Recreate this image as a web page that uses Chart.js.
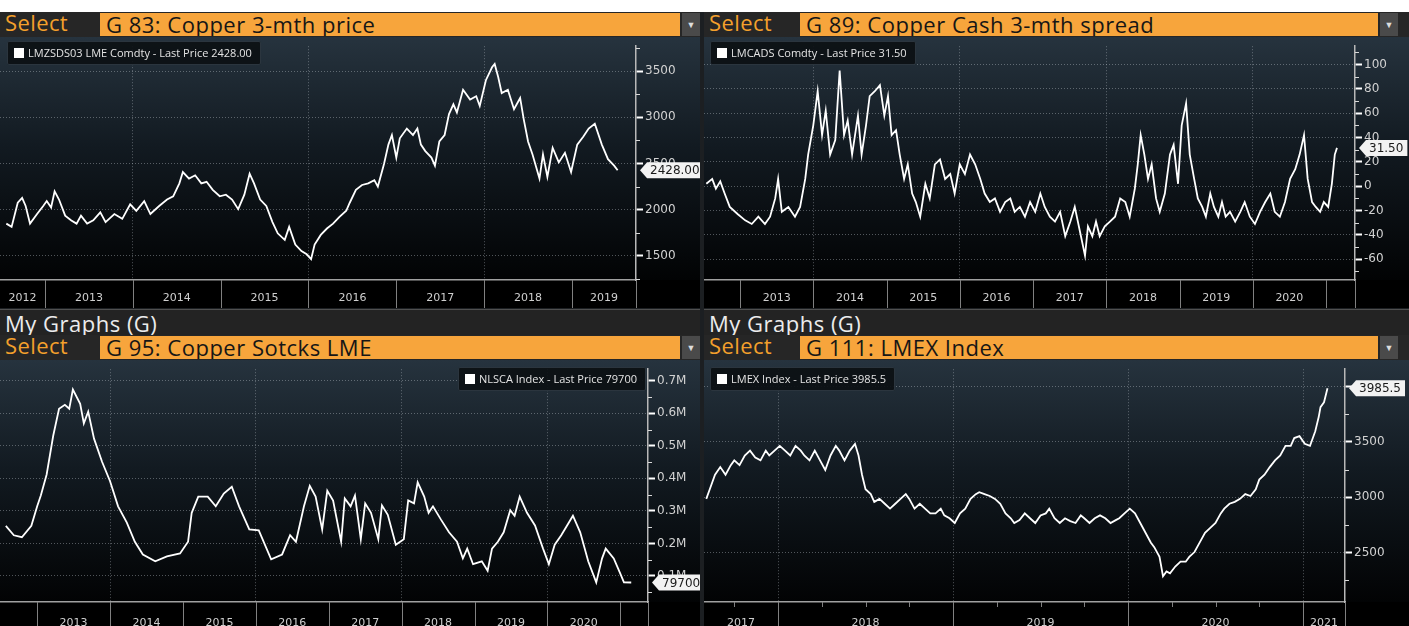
<!DOCTYPE html>
<html>
<head>
<meta charset="utf-8">
<script src="https://cdn.jsdelivr.net/npm/chart.js@4"></script>
<style>
  body { margin: 0; width: 1409px; height: 626px; background: #fff; overflow: hidden; position: relative; font-family: "Open Sans", sans-serif; }
  .fundo { position: absolute; left: 0; top: 12px; width: 1409px; height: 614px; background: #1c1f22; }
  .hdr { position: absolute; height: 25px; background: #262626; }
  .sel { position: absolute; left: 5px; top: -5px; color: #f4a02c; font-size: 22px; letter-spacing: 0.4px; }
  .fld { position: absolute; top: 1px; height: 23px; background: #f7a53c; color: #161616; font-size: 22px; letter-spacing: 0.5px; line-height: 22px; padding-left: 6px; box-sizing: border-box; white-space: nowrap; overflow: hidden; }
  .dd { position: absolute; top: 1px; width: 18px; height: 23px; background: #4a4a4a; color: #ddd; font-size: 9px; text-align: center; line-height: 23px; }
  .mg { position: absolute; height: 26px; background: #232323; color: #ececec; font-size: 22px; letter-spacing: 0.5px; line-height: 26px; padding-left: 5px; box-sizing: border-box; border-top: 1px solid #505050; }
  .lg { position: absolute; height: 22px; background: rgba(12, 16, 20, 0.92); border: 1px solid #2b353e; border-radius: 2px; color: #e4e4e4; font-size: 11px; line-height: 22px; padding: 0 8px 0 6px; font-family: "Open Sans", sans-serif; white-space: nowrap; }
  .lg i { display: inline-block; width: 10px; height: 10px; background: #fff; margin-right: 4px; vertical-align: -1px; }
  canvas { position: absolute; }
</style>
</head>
<body>
<div class="fundo"></div>

<div class="hdr" style="left:0;top:12px;width:700px">
  <span class="sel">Select</span>
  <span class="fld" style="left:100px;width:580px">G 83: Copper 3-mth price</span>
  <span class="dd" style="left:682px">▼</span>
</div>
<div class="hdr" style="left:704px;top:12px;width:705px">
  <span class="sel">Select</span>
  <span class="fld" style="left:96px;width:578px">G 89: Copper Cash 3-mth spread</span>
  <span class="dd" style="left:676px">▼</span>
</div>

<div class="mg" style="left:0;top:309px;width:700px">My Graphs (G)</div>
<div class="mg" style="left:704px;top:309px;width:705px">My Graphs (G)</div>

<div class="hdr" style="left:0;top:335px;width:700px">
  <span class="sel">Select</span>
  <span class="fld" style="left:100px;width:580px">G 95: Copper Sotcks LME</span>
  <span class="dd" style="left:682px">▼</span>
</div>
<div class="hdr" style="left:704px;top:335px;width:705px">
  <span class="sel">Select</span>
  <span class="fld" style="left:96px;width:578px">G 111: LMEX Index</span>
  <span class="dd" style="left:676px">▼</span>
</div>

<canvas id="gTL" width="700" height="271" style="left:0;top:37px"></canvas>
<canvas id="gTR" width="705" height="271" style="left:704px;top:37px"></canvas>
<canvas id="gBL" width="700" height="266" style="left:0;top:360px"></canvas>
<canvas id="gBR" width="705" height="266" style="left:704px;top:360px"></canvas>

<div class="lg" id="lgTL" style="left:7px;top:41px"></div>
<div class="lg" id="lgTR" style="left:710px;top:41px"></div>
<div class="lg" id="lgBL" style="right:763px;top:367px"></div>
<div class="lg" id="lgBR" style="left:710px;top:367px"></div>

<script>
// G 83: Copper 3-mth price (LMZSDS03 LME Comdty)
const tlYears = [
  2012.56,2012.62,2012.69,2012.74,2012.78,2012.83,2012.91,2012.98,2013.02,2013.07,
  2013.11,2013.16,2013.23,2013.30,2013.36,2013.41,2013.48,2013.55,2013.63,2013.69,
  2013.79,2013.88,2013.97,2014.04,2014.13,2014.20,2014.30,2014.39,2014.46,2014.53,
  2014.57,2014.64,2014.71,2014.78,2014.84,2014.91,2014.99,2015.06,2015.13,2015.20,
  2015.27,2015.33,2015.38,2015.45,2015.52,2015.59,2015.65,2015.73,2015.78,2015.85,
  2015.92,2015.98,2016.03,2016.07,2016.14,2016.21,2016.28,2016.35,2016.43,2016.47,
  2016.54,2016.61,2016.68,2016.75,2016.79,2016.86,2016.91,2016.95,2017.00,2017.04,
  2017.12,2017.19,2017.24,2017.28,2017.33,2017.40,2017.44,2017.49,2017.55,2017.60,
  2017.65,2017.69,2017.76,2017.84,2017.91,2017.95,2018.02,2018.09,2018.12,2018.16,
  2018.20,2018.27,2018.34,2018.41,2018.45,2018.50,2018.55,2018.63,2018.67,2018.72,
  2018.78,2018.85,2018.92,2018.99,2019.06,2019.13,2019.19,2019.26,2019.34,2019.41,
  2019.48,2019.52
];
const tlValues = [
  1850,1815,2076,2129,2041,1850,1954,2041,2094,2024,
  2199,2111,1937,1885,1850,1937,1850,1885,1972,1867,
  1954,1902,2059,1989,2094,1954,2041,2111,2146,2286,
  2408,2338,2373,2286,2303,2216,2146,2163,2111,2007,
  2163,2390,2286,2111,2041,1867,1745,1675,1815,1623,
  1553,1518,1466,1623,1728,1797,1850,1920,1989,2076,
  2216,2268,2286,2321,2251,2495,2705,2809,2565,2774,
  2879,2809,2879,2705,2635,2565,2478,2739,2809,3036,
  3141,3053,3298,3193,3228,3123,3402,3542,3577,3437,
  3263,3298,3088,3210,2984,2739,2600,2338,2600,2356,
  2670,2513,2617,2408,2705,2792,2879,2931,2705,2547,
  2478,2428
];
const tlYTicks = [1500, 2000, 2500, 3000, 3500];
const tlYMinor = [1250, 1750, 2250, 2750, 3250, 3750];
const tlXLabels = ['2012','2013','2014','2015','2016','2017','2018','2019'];

// G 89: Copper Cash 3-mth spread (LMCADS Comdty)
const trYears = [
  2012.54,2012.62,2012.67,2012.73,2012.79,2012.86,2012.97,2013.07,2013.16,2013.25,
  2013.34,2013.41,2013.48,2013.52,2013.57,2013.66,2013.75,2013.82,2013.89,2013.93,
  2014.00,2014.06,2014.12,2014.17,2014.23,2014.30,2014.36,2014.42,2014.47,2014.53,
  2014.61,2014.66,2014.72,2014.77,2014.84,2014.91,2014.97,2015.02,2015.07,2015.13,
  2015.18,2015.24,2015.29,2015.35,2015.40,2015.46,2015.53,2015.59,2015.66,2015.73,
  2015.80,2015.87,2015.93,2016.00,2016.07,2016.14,2016.21,2016.28,2016.34,2016.41,
  2016.48,2016.55,2016.62,2016.69,2016.75,2016.82,2016.89,2016.96,2017.03,2017.10,
  2017.16,2017.23,2017.30,2017.37,2017.44,2017.51,2017.57,2017.64,2017.71,2017.75,
  2017.81,2017.86,2017.91,2017.98,2018.05,2018.12,2018.19,2018.26,2018.32,2018.39,
  2018.43,2018.47,2018.52,2018.57,2018.62,2018.68,2018.73,2018.80,2018.87,2018.92,
  2018.98,2019.03,2019.09,2019.14,2019.20,2019.25,2019.31,2019.36,2019.42,2019.47,
  2019.53,2019.58,2019.63,2019.69,2019.76,2019.83,2019.89,2019.96,2020.03,2020.10,
  2020.17,2020.24,2020.30,2020.37,2020.44,2020.51,2020.58,2020.64,2020.70,2020.75,
  2020.81,2020.86,2020.92,2020.97,2021.03,2021.08,2021.12,2021.15
];
const trValues = [
  2,6,-2,4,-6,-17,-23,-28,-31,-25,
  -31,-25,-10,6,-21,-17,-25,-17,6,26,
  50,78,42,62,26,38,95,42,54,26,
  58,26,50,74,78,83,58,74,42,46,
  26,6,18,-6,-13,-25,2,-10,18,22,
  6,10,-6,18,10,26,18,6,-6,-13,
  -10,-21,-13,-10,-21,-17,-25,-13,-21,-6,
  -17,-25,-29,-21,-41,-29,-17,-37,-57,-33,
  -41,-29,-41,-33,-29,-25,-10,-13,-25,-2,
  18,42,26,6,18,-10,-21,-6,26,34,
  2,50,68,26,6,-10,-17,-25,-6,-17,
  -25,-13,-25,-21,-29,-21,-13,-25,-31,-21,
  -13,-6,-21,-25,-13,6,14,26,42,6,
  -13,-17,-21,-13,-17,2,26,31.5
];
const trYTicks = [-60, -40, -20, 0, 20, 40, 60, 80, 100];
const trYMinor = [-70, -50, -30, -10, 10, 30, 50, 70, 90, 110];
const trXLabels = ['2013','2014','2015','2016','2017','2018','2019','2020'];

// G 95: Copper Sotcks LME (NLSCA Index)
const blYears = [
  2012.57,2012.68,2012.79,2012.92,2013.00,2013.05,2013.13,2013.22,2013.30,2013.38,
  2013.44,2013.49,2013.59,2013.64,2013.70,2013.78,2013.89,2014.00,2014.11,2014.23,
  2014.34,2014.45,2014.62,2014.78,2014.96,2015.07,2015.12,2015.21,2015.34,2015.45,
  2015.56,2015.67,2015.77,2015.91,2016.04,2016.21,2016.36,2016.47,2016.55,2016.66,
  2016.74,2016.82,2016.91,2016.98,2017.06,2017.17,2017.22,2017.30,2017.36,2017.44,
  2017.50,2017.58,2017.68,2017.73,2017.81,2017.92,2018.03,2018.09,2018.17,2018.22,
  2018.31,2018.37,2018.43,2018.54,2018.65,2018.76,2018.84,2018.90,2018.98,2019.10,
  2019.18,2019.24,2019.32,2019.40,2019.49,2019.55,2019.62,2019.72,2019.83,2019.94,
  2020.02,2020.10,2020.19,2020.27,2020.35,2020.45,2020.56,2020.67,2020.75,2020.80,
  2020.91,2021.00,2021.05,2021.15
];
const blValues = [
  254000,225000,219000,254000,314000,347000,412000,531000,614000,626000,
  614000,673000,629000,569000,605000,522000,451000,391000,314000,264000,
  205000,166000,145000,160000,169000,205000,294000,344000,344000,314000,
  353000,374000,314000,243000,240000,151000,166000,225000,205000,314000,
  377000,344000,243000,362000,332000,205000,338000,314000,347000,213000,
  323000,294000,213000,317000,288000,196000,213000,332000,323000,388000,
  344000,294000,314000,273000,234000,205000,154000,184000,136000,145000,
  116000,184000,205000,234000,302000,285000,344000,294000,255000,184000,
  136000,196000,225000,255000,285000,234000,145000,80000,154000,184000,
  154000,107000,80000,79700
];
const blYTicks = [100000, 200000, 300000, 400000, 500000, 600000, 700000];
const blYMinor = [50000, 150000, 250000, 350000, 450000, 550000, 650000];
const blXLabels = ['2013','2014','2015','2016','2017','2018','2019','2020'];

// G 111: LMEX Index
const brYears = [
  2017.59,2017.61,2017.64,2017.67,2017.70,2017.73,2017.75,2017.78,2017.81,2017.84,
  2017.87,2017.90,2017.93,2017.95,2017.98,2018.01,2018.04,2018.07,2018.10,2018.13,
  2018.15,2018.18,2018.21,2018.24,2018.27,2018.30,2018.33,2018.35,2018.38,2018.41,
  2018.44,2018.46,2018.48,2018.50,2018.53,2018.55,2018.58,2018.61,2018.64,2018.67,
  2018.70,2018.73,2018.75,2018.78,2018.81,2018.84,2018.87,2018.90,2018.93,2018.95,
  2018.98,2019.01,2019.04,2019.07,2019.10,2019.13,2019.15,2019.18,2019.21,2019.24,
  2019.27,2019.30,2019.33,2019.35,2019.38,2019.41,2019.44,2019.47,2019.50,2019.53,
  2019.55,2019.58,2019.61,2019.64,2019.67,2019.70,2019.73,2019.75,2019.78,2019.81,
  2019.84,2019.87,2019.90,2019.93,2019.95,2019.98,2020.01,2020.04,2020.07,2020.10,
  2020.13,2020.15,2020.18,2020.20,2020.22,2020.24,2020.27,2020.30,2020.33,2020.35,
  2020.38,2020.41,2020.44,2020.47,2020.50,2020.53,2020.55,2020.58,2020.61,2020.64,
  2020.67,2020.70,2020.73,2020.75,2020.78,2020.81,2020.84,2020.87,2020.90,2020.93,
  2020.95,2020.98,2021.01,2021.04,2021.05,2021.07,2021.09,2021.10,2021.12,2021.14
];
const brValues = [
  2986,3073,3204,3273,3204,3291,3334,3291,3378,3422,
  3360,3334,3422,3378,3422,3465,3422,3378,3465,3422,
  3378,3334,3422,3334,3247,3378,3465,3422,3334,3422,
  3483,3378,3204,3073,3029,2959,2986,2942,2898,2942,
  2986,3029,2986,2898,2942,2898,2855,2855,2898,2837,
  2811,2768,2855,2898,2986,3029,3047,3029,3012,2986,
  2942,2855,2811,2768,2794,2855,2811,2768,2837,2855,
  2898,2811,2768,2811,2785,2768,2837,2811,2768,2811,
  2837,2811,2768,2794,2811,2855,2898,2855,2768,2680,
  2593,2550,2462,2288,2331,2314,2375,2419,2419,2462,
  2506,2593,2680,2724,2768,2855,2898,2942,2959,2986,
  3029,3012,3073,3160,3204,3273,3334,3378,3465,3465,
  3535,3552,3483,3465,3509,3596,3727,3814,3858,3985.5
];
const brYTicks = [2500, 3000, 3500, 4000];
const brYMinor = [2250, 2750, 3250, 3750];
const brXLabels = ['2017','2018','2019','2020','2021'];
const brQuarters = [2017.75, 2018.25, 2018.5, 2018.75, 2019.25, 2019.5, 2019.75, 2020.25, 2020.5, 2020.75];

const gridCor = 'rgba(185,192,200,0.42)';

// fundo degradê do painel e faixa preta das datas
const fundo = {
  id: 'fundo',
  beforeDraw(chart) {
    const { ctx, chartArea: a } = chart;
    const g = ctx.createLinearGradient(0, 0, 0, a.bottom);
    g.addColorStop(0, '#26333e');
    g.addColorStop(0.45, '#121a21');
    g.addColorStop(1, '#020304');
    ctx.save();
    ctx.fillStyle = g;
    ctx.fillRect(0, 0, chart.width, a.bottom);
    ctx.fillStyle = '#000';
    ctx.fillRect(0, a.bottom, chart.width, chart.height - a.bottom);
    ctx.restore();
  }
};

// separadores dos anos e ticks menores
const regua = {
  id: 'regua',
  afterDraw(chart, args, o) {
    const { ctx, chartArea: a, scales: { x, y } } = chart;
    ctx.save();
    ctx.lineWidth = 1;
    ctx.strokeStyle = '#808080';
    ctx.beginPath();
    o.anos.forEach(v => {
      const p = Math.round(x.getPixelForValue(v)) + 0.5;
      ctx.moveTo(p, a.bottom);
      ctx.lineTo(p, chart.height);
    });
    ctx.moveTo(Math.round(a.right) + 0.5, a.bottom);
    ctx.lineTo(Math.round(a.right) + 0.5, chart.height);
    (o.xMenor || []).forEach(v => {
      const p = Math.round(x.getPixelForValue(v)) + 0.5;
      ctx.moveTo(p, a.bottom);
      ctx.lineTo(p, a.bottom + 5);
    });
    ctx.stroke();
    ctx.strokeStyle = '#d8d8d8';
    ctx.beginPath();
    o.yMenor.forEach(v => {
      const p = Math.round(y.getPixelForValue(v)) + 0.5;
      ctx.moveTo(a.right, p);
      ctx.lineTo(a.right + 4, p);
    });
    ctx.stroke();
    ctx.restore();
  }
};

// etiqueta do último preço no eixo
const etiqueta = {
  id: 'etiqueta',
  afterDraw(chart, args, o) {
    const { ctx, chartArea: a } = chart;
    const y = chart.scales.y.getPixelForValue(o.valor);
    ctx.save();
    ctx.font = '12px "DejaVu Sans"';
    const w = ctx.measureText(o.texto).width + 7;
    const x0 = a.right + 4, h = 8;
    ctx.beginPath();
    ctx.moveTo(x0, y);
    ctx.lineTo(x0 + 7, y - h);
    ctx.lineTo(x0 + 7 + w, y - h);
    ctx.lineTo(x0 + 7 + w, y + h);
    ctx.lineTo(x0 + 7, y + h);
    ctx.closePath();
    ctx.fillStyle = '#f2f2f2';
    ctx.fill();
    ctx.fillStyle = '#1a1a1a';
    ctx.textBaseline = 'middle';
    ctx.fillText(o.texto, x0 + 10, y + 1);
    ctx.restore();
  }
};

function painel(id, o) {
  const anos = [];
  for (let a = Math.ceil(o.xMin); a <= o.xMax; a++) anos.push(a);
  // rótulos no meio da parte visível de cada ano
  const rotulos = new Map();
  o.xLabels.forEach(t => {
    const a = Number(t);
    rotulos.set((Math.max(a, o.xMin) + Math.min(a + 1, o.xMax)) / 2, t);
  });
  const ultimo = o.valores[o.valores.length - 1];
  const texto = o.tag(ultimo);
  document.getElementById(o.legenda).innerHTML = `<i></i>${o.nome} - Last Price ${texto}`;

  return new Chart(document.getElementById(id), {
    type: 'line',
    data: {
      datasets: [{
        data: o.anosSerie.map((x, i) => ({ x, y: o.valores[i] })),
        borderColor: '#ffffff',
        borderWidth: 1.8,
        pointRadius: 0,
        tension: 0
      }]
    },
    options: {
      responsive: false,
      animation: false,
      layout: { padding: 0 },
      plugins: {
        legend: { display: false },
        tooltip: { enabled: false },
        regua: { anos, xMenor: o.xMenor, yMenor: o.yMenor },
        etiqueta: { valor: ultimo, texto }
      },
      scales: {
        x: {
          type: 'linear',
          min: o.xMin,
          max: o.xMax,
          afterBuildTicks: s => { s.ticks = anos.concat([...rotulos.keys()]).map(v => ({ value: v })); },
          afterFit: s => { s.height = o.xH; },
          grid: {
            drawTicks: false,
            lineWidth: 1,
            color: c => (c.tick && o.gradeX.includes(c.tick.value)) ? gridCor : 'rgba(0,0,0,0)'
          },
          border: { color: '#a0a0a0', width: 1.5, dash: [1, 2] },
          ticks: {
            autoSkip: false, maxRotation: 0, minRotation: 0, padding: o.xPad,
            color: '#cfcfcf', font: { family: 'DejaVu Sans', size: 11 },
            callback: v => rotulos.get(v) || ''
          }
        },
        y: {
          position: 'right',
          min: o.yMin,
          max: o.yMax,
          afterBuildTicks: s => { s.ticks = o.yTicks.map(v => ({ value: v })); },
          afterFit: s => { s.width = o.yW; },
          grid: { color: gridCor, lineWidth: 1, tickLength: 7, tickColor: '#ffffff', tickWidth: 2 },
          border: { color: '#b8b8b8', width: 1.5, dash: [1, 2] },
          ticks: { padding: 2, color: '#d2d2d2', font: { family: 'DejaVu Sans', size: 12 }, callback: o.fmt }
        }
      }
    },
    plugins: [fundo, regua, etiqueta]
  });
}

painel('gTL', {
  anosSerie: tlYears, valores: tlValues, yTicks: tlYTicks, yMenor: tlYMinor, xLabels: tlXLabels,
  xMin: 2012.488, xMax: 2019.729, yMin: 1240, yMax: 3770, xH: 28, yW: 64, xPad: 12,
  gradeX: [2014, 2016, 2018], fmt: v => String(v),
  tag: v => v.toFixed(2), legenda: 'lgTL', nome: 'LMZSDS03 LME Comdty'
});
painel('gTR', {
  anosSerie: trYears, valores: trValues, yTicks: trYTicks, yMenor: trYMinor, xLabels: trXLabels,
  xMin: 2012.508, xMax: 2021.396, yMin: -77, yMax: 115, xH: 28, yW: 54, xPad: 12,
  gradeX: [2014, 2016, 2018, 2020], fmt: v => String(v),
  tag: v => v.toFixed(2), legenda: 'lgTR', nome: 'LMCADS Comdty'
});
painel('gBL', {
  anosSerie: blYears, valores: blValues, yTicks: blYTicks, yMenor: blYMinor, xLabels: blXLabels,
  xMin: 2012.49, xMax: 2021.38, yMin: 19800, yMax: 735600, xH: 24, yW: 52, xPad: 15,
  gradeX: [2014, 2016, 2018, 2020], fmt: v => (v / 1e6).toFixed(1) + 'M',
  tag: v => String(v), legenda: 'lgBL', nome: 'NLSCA Index'
});
painel('gBR', {
  anosSerie: brYears, valores: brValues, yTicks: brYTicks, yMenor: brYMinor, xLabels: brXLabels,
  xMenor: brQuarters,
  xMin: 2017.577, xMax: 2021.24, yMin: 2055, yMax: 4157, xH: 24, yW: 64, xPad: 15,
  gradeX: [2018, 2019, 2020, 2021], fmt: v => String(v),
  tag: v => v.toFixed(1), legenda: 'lgBR', nome: 'LMEX Index'
});
</script>
</body>
</html>
